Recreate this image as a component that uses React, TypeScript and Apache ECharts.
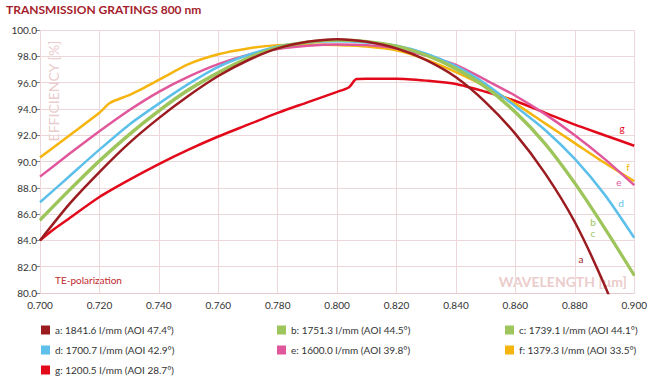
import React, { useEffect, useRef } from "react";
import * as echarts from "echarts";

// Wavelength grid (µm) shared by most series
const wavelengths = [0.70, 0.71, 0.72, 0.73, 0.74, 0.75, 0.76, 0.77, 0.78, 0.79, 0.80, 0.81, 0.82, 0.83, 0.84, 0.85, 0.86, 0.87, 0.88, 0.89, 0.90];

const seriesA = [84.0, 86.8, 89.2, 91.4, 93.3, 95.0, 96.5, 97.7, 98.6, 99.1, 99.3, 99.1, 98.6, 97.7, 96.4, 94.5, 92.1, 89.1, 85.4, 80.6, 75.0];
const seriesB = [85.6, 87.9, 90.1, 92.1, 93.9, 95.5, 96.8, 97.9, 98.7, 99.1, 99.25, 99.15, 98.8, 98.1, 97.1, 95.7, 93.8, 91.4, 88.4, 85.0, 81.4];
const seriesC = [85.5, 87.8, 90.0, 92.0, 93.8, 95.4, 96.7, 97.8, 98.6, 99.05, 99.2, 99.1, 98.75, 98.05, 97.0, 95.6, 93.7, 91.3, 88.3, 84.9, 81.3];
const seriesD = [86.9, 88.9, 90.9, 92.8, 94.4, 95.9, 97.2, 98.1, 98.75, 99.05, 99.15, 99.05, 98.8, 98.2, 97.25, 95.9, 94.2, 92.4, 90.2, 87.5, 84.2];
const seriesE = [88.85, 90.6, 92.3, 93.9, 95.3, 96.45, 97.4, 98.1, 98.55, 98.8, 98.9, 98.85, 98.6, 98.05, 97.35, 96.2, 95.0, 93.6, 92.0, 90.2, 88.2];

const wavelengthsF = [0.70, 0.71, 0.72, 0.7235, 0.73, 0.735, 0.74, 0.75, 0.76, 0.77, 0.78, 0.79, 0.80, 0.81, 0.82, 0.83, 0.84, 0.85, 0.86, 0.87, 0.88, 0.89, 0.90];
const seriesF = [90.3, 92.0, 93.7, 94.45, 95.05, 95.6, 96.2, 97.4, 98.15, 98.6, 98.85, 98.9, 98.85, 98.75, 98.45, 97.75, 96.8, 95.7, 94.4, 92.9, 91.4, 89.9, 88.5];

const wavelengthsG = [0.70, 0.705, 0.71, 0.72, 0.73, 0.74, 0.75, 0.76, 0.77, 0.78, 0.79, 0.80, 0.804, 0.8065, 0.81, 0.82, 0.83, 0.84, 0.85, 0.86, 0.87, 0.88, 0.89, 0.90];
const seriesG = [84.0, 84.9, 85.7, 87.3, 88.6, 89.8, 90.9, 91.9, 92.8, 93.7, 94.5, 95.3, 95.65, 96.27, 96.3, 96.3, 96.15, 95.9, 95.3, 94.6, 93.7, 92.8, 92.0, 91.2];

const names = [
  "a: 1841.6 l/mm (AOI 47.4°)",
  "b: 1751.3 l/mm (AOI 44.5°)",
  "c: 1739.1 l/mm (AOI 44.1°)",
  "d: 1700.7 l/mm (AOI 42.9°)",
  "e: 1600.0 l/mm (AOI 39.8°)",
  "f: 1379.3 l/mm (AOI 33.5°)",
  "g: 1200.5 l/mm (AOI 28.7°)",
];
const letters = ["a", "b", "c", "d", "e", "f", "g"];
const colors = ["#9b1c20", "#9dc55b", "#9dc55b", "#5cc0ea", "#e0579b", "#f6b40e", "#e2091b"];

const FONT = "Lato";

export default function App() {
  const ref = useRef<HTMLDivElement>(null);
  useEffect(() => {
    if (!ref.current) return;
    const chart = echarts.init(ref.current, null, { renderer: "svg" });
    const xs = [wavelengths, wavelengths, wavelengths, wavelengths, wavelengths, wavelengthsF, wavelengthsG];
    const ys = [seriesA, seriesB, seriesC, seriesD, seriesE, seriesF, seriesG];
    const series = ys.map((vals, i) => ({
      name: names[i],
      type: "line",
      data: vals.map((v, j) => [xs[i][j], v]),
      showSymbol: false,
      smooth: 0.25,
      clip: true,
      z: 3 + (6 - i),
      lineStyle: { color: colors[i], width: 2.5 },
      itemStyle: { color: colors[i] },
    }));

    const labelPos = [
      [581, 259], [593, 222], [593, 233], [621, 203], [619, 182], [628, 167], [622, 128],
    ];

    const legendBase = {
      orient: "vertical",
      itemWidth: 9,
      itemHeight: 9,
      itemGap: 10,
      icon: "rect",
      textStyle: { fontFamily: FONT, fontSize: 10, color: "#333" },
      selectedMode: false,
    };

    chart.setOption({
      animation: false,
      backgroundColor: "#fff",
      grid: { left: 40, right: 14, top: 30, bottom: 90, containLabel: false },
      xAxis: {
        type: "value",
        min: 0.7,
        max: 0.9,
        interval: 0.02,
        axisLine: { show: true, lineStyle: { color: "#e6cdd0" } },
        axisTick: { show: false },
        axisLabel: {
          formatter: (v: number) => v.toFixed(3),
          fontFamily: FONT,
          fontSize: 10,
          color: "#333",
          margin: 7,
        },
        splitLine: { show: true, lineStyle: { color: "#ecd7da", width: 1 } },
      },
      yAxis: {
        type: "value",
        min: 80,
        max: 100,
        interval: 2,
        axisLine: { show: false },
        axisTick: { show: true, length: 4, lineStyle: { color: "#888" } },
        axisLabel: {
          formatter: (v: number) => v.toFixed(1),
          fontFamily: FONT,
          fontSize: 10,
          color: "#333",
          margin: 3,
        },
        splitLine: { show: true, lineStyle: { color: "#ecd7da", width: 1 } },
      },
      legend: [
        { ...legendBase, data: [names[0], names[3], names[6]], left: 36, top: 320 },
        { ...legendBase, data: [names[1], names[4]], left: 272, top: 320 },
        { ...legendBase, data: [names[2], names[5]], left: 500, top: 320 },
      ],
      graphic: [
        {
          type: "text",
          left: 6,
          top: 3,
          style: {
            text: "TRANSMISSION GRATINGS 800 nm",
            fill: "#a51d2d",
            font: `bold 12px ${FONT}`,
          },
        },
        {
          type: "text",
          x: 53,
          y: 91,
          rotation: Math.PI / 2,
          z: 0,
          style: {
            text: "EFFICIENCY [%]",
            fill: "#ebcccc",
            font: `14px ${FONT}`,
            align: "center",
            verticalAlign: "middle",
          },
        },
        {
          type: "text",
          x: 627,
          y: 281,
          z: 0,
          style: {
            text: "WAVELENGTH [μm]",
            fill: "#ebcccc",
            font: `bold 14px ${FONT}`,
            align: "right",
            verticalAlign: "middle",
          },
        },
        {
          type: "text",
          x: 55,
          y: 280,
          z: 0,
          style: {
            text: "TE-polarization",
            fill: "#c0282d",
            font: `10px ${FONT}`,
            align: "left",
            verticalAlign: "middle",
          },
        },
        ...letters.map((l, i) => ({
          type: "text",
          x: labelPos[i][0],
          y: labelPos[i][1],
          z: 10,
          style: {
            text: l,
            fill: colors[i],
            font: `10px ${FONT}`,
            align: "center",
            verticalAlign: "middle",
          },
        })),
      ],
      series,
    });
    return () => chart.dispose();
  }, []);
  return <div ref={ref} style={{ width: 650, height: 383, position: "absolute", left: 0, top: 0 }} />;
}
